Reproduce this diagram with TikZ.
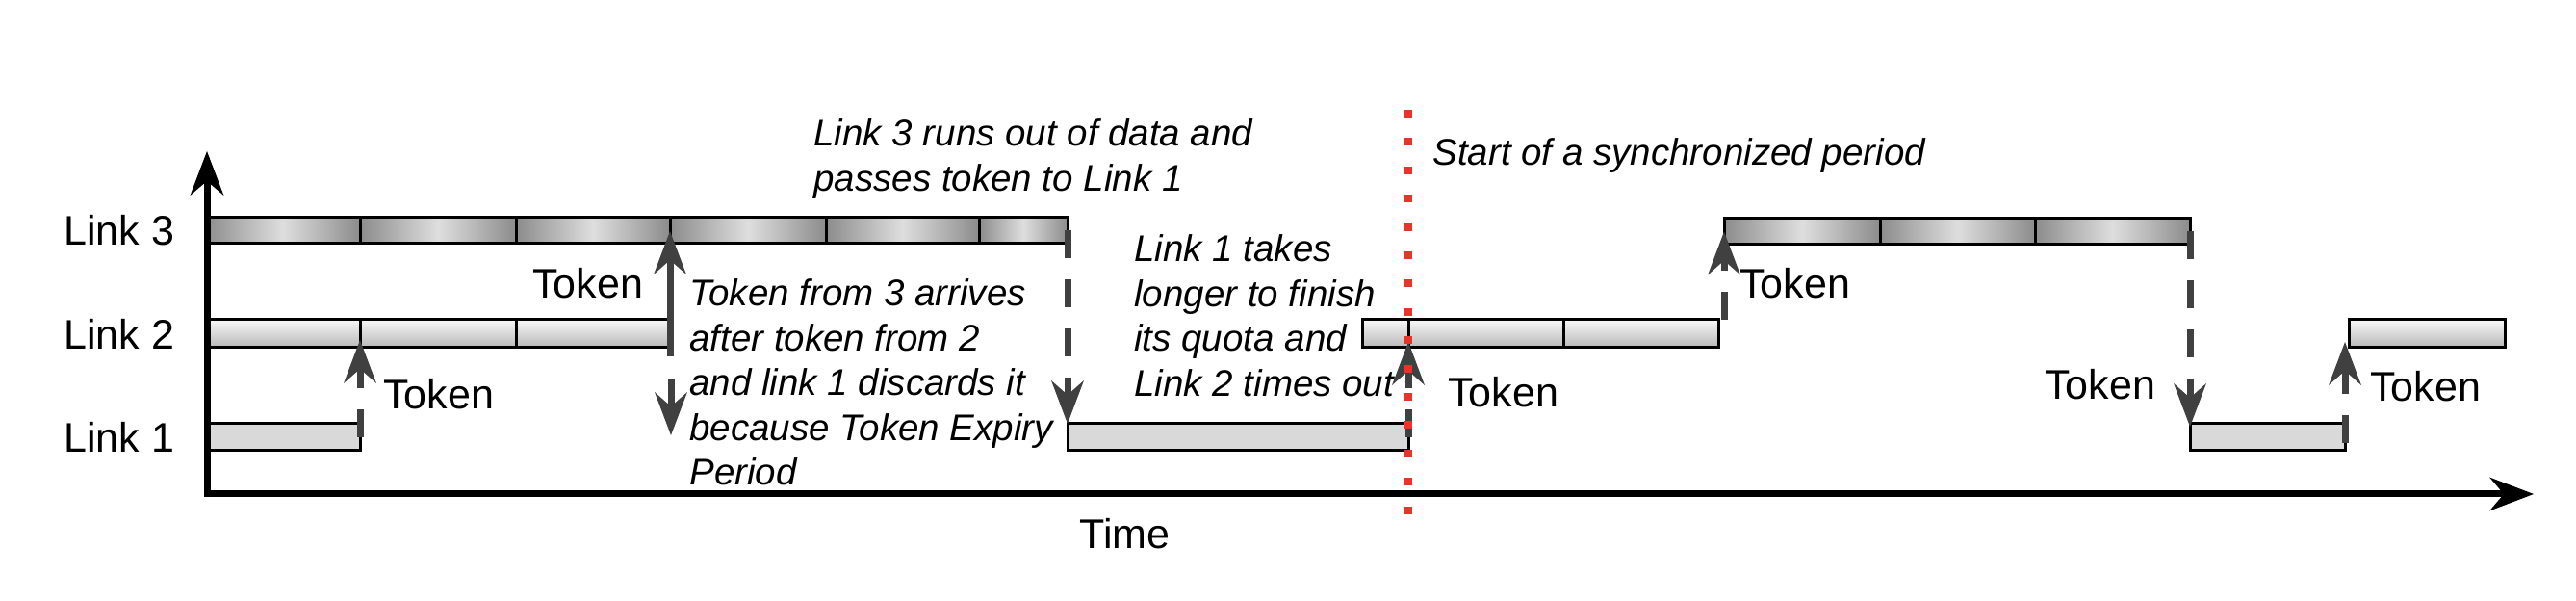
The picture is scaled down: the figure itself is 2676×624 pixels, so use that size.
\documentclass[tikz,border=0pt]{standalone}
\usepackage{fontspec}
\setmainfont{Liberation Sans}
\usetikzlibrary{arrows.meta,calc}
\definecolor{lthreedark}{HTML}{8C8C8C}
\definecolor{lthreelight}{HTML}{DEDEDE}
\definecolor{ltwotop}{HTML}{F6F6F6}
\definecolor{ltwobot}{HTML}{B8B8B8}
\definecolor{lonefill}{HTML}{D9D9D9}
\definecolor{tokgray}{HTML}{404040}
\definecolor{syncred}{HTML}{E8352B}
\begin{document}
\begin{tikzpicture}[x=0.5pt,y=-0.5pt,
  seg/.style={draw=black, line width=1.5pt, inner sep=0pt, outer sep=0pt, anchor=west, minimum width=#1*0.5pt},
  lthree/.style={seg=#1, minimum height=13.5pt, left color=lthreedark, right color=lthreedark, middle color=lthreelight},
  ltwo/.style={seg=#1, minimum height=14.5pt, top color=ltwotop, bottom color=ltwobot},
  lone/.style={seg=#1, minimum height=14pt, fill=lonefill},
  tok/.style={draw=tokgray, line width=3.5pt, -{Stealth[length=22.5pt, width=17pt, inset=7.5pt, line width=0pt]}},
  tokdash/.style={tok, dash pattern=on 14.5pt off 11pt},
  axisline/.style={draw=black, line width=3.5pt, {Stealth[length=23pt, width=17.5pt, inset=7.5pt, line width=0pt]}-{Stealth[length=23pt, width=17.5pt, inset=7.5pt, line width=0pt]}},
  linklabel/.style={font=\fontsize{21.5}{26}\selectfont, inner sep=0pt, anchor=base west},
  note/.style={font=\fontsize{19.25}{23.25}\selectfont\itshape, inner sep=0pt, anchor=base west},
  sync/.style={draw=syncred, line width=4pt, dash pattern=on 4pt off 10.7pt}
]
\useasboundingbox (0,0) rectangle (2676,624);

% Link 3 bars
\node[lthree=161] (s3a1) at (213,239.5) {};
\node[lthree=162] (s3a2) at (374,239.5) {};
\node[lthree=160] (s3a3) at (536,239.5) {};
\node[lthree=162] (s3a4) at (696,239.5) {};
\node[lthree=159] (s3a5) at (858,239.5) {};
\node[lthree=92]  (s3a6) at (1017,239.5) {};
\node[lthree=162] (s3b1) at (1791,240) {};
\node[lthree=161] (s3b2) at (1953,240) {};
\node[lthree=161] (s3b3) at (2114,240) {};

% Link 2 bars
\node[ltwo=161] (s2a1) at (213,346.5) {};
\node[ltwo=162] (s2a2) at (374,346.5) {};
\node[ltwo=160] (s2a3) at (536,346.5) {};
\node[ltwo=48]  (s2b1) at (1415,346.5) {};
\node[ltwo=161] (s2b2) at (1463,346.5) {};
\node[ltwo=161] (s2b3) at (1624,346.5) {};
\node[ltwo=162] (s2c)  at (2440,346.5) {};

% Link 1 bars
\node[lone=161] (s1a) at (213,454) {};
\node[lone=354] (s1b) at (1109,454) {};
\node[lone=161] (s1c) at (2275,454) {};

% token arrows
\draw[tokdash] (s1a.east) -- ([yshift=4pt]s2a1.south east);
\draw[tok] ([yshift=-4.5pt]s2a3.south east) -- ([yshift=6.5pt]s3a3.south east);
\coordinate (dA) at (697,393);
\coordinate (dB) at (697,452);
\draw[tok] (dA) -- (dB);
\draw[tokdash] (s3a6.east) -- (s1b.north west);
\draw[tokdash] (s1b.east) -- ([yshift=3pt]s2b1.south east);
\draw[tokdash] (s3b1.west |- s2b3.north) -- ([yshift=6.5pt]s3b1.south west);
\draw[tokdash] (s3b3.east) -- ([yshift=-1.5pt]s1c.north west);
\draw[tokdash] ([yshift=-3pt]s1c.east) -- ($(s1c.east |- s2c.south)+(0,-6)$);

% axes
\coordinate (ytop) at (215,157);
\coordinate (origin) at (215,513);
\coordinate (xend) at (2632,513);
\draw[axisline] (ytop) -- (origin) -- (xend);

% synchronized period line
\coordinate (syA) at (1463,114);
\coordinate (syB) at (1463,534);
\draw[sync] (syA) -- (syB);

% labels
\node[linklabel] (lab3) at (66,255) {Link 3};
\node[linklabel] (lab2) at (66,363) {Link 2};
\node[linklabel] (lab1) at (66,470) {Link 1};
\node[linklabel] (t1) at (398,425) {Token};
\node[linklabel] (t2) at (553,310) {Token};
\node[linklabel] (t3) at (1504,423) {Token};
\node[linklabel] (t4) at (1807,310) {Token};
\node[linklabel] (t5) at (2124,415) {Token};
\node[linklabel] (t6) at (2462,417) {Token};
\node[linklabel] (time) at (1121,569) {Time};

% notes
\node[note] (n1) at (845,152) {\begin{tabular}[t]{@{}l@{}}Link 3 runs out of data and\\passes token to Link 1\end{tabular}};
\node[note] (n2) at (716,318) {\begin{tabular}[t]{@{}l@{}}Token from 3 arrives\\after token from 2\\and link 1 discards it\\because Token Expiry\\Period\end{tabular}};
\node[note] (n3) at (1178,272) {\begin{tabular}[t]{@{}l@{}}Link 1 takes\\longer to finish\\its quota and\\Link 2 times out\end{tabular}};
\node[note] (n4) at (1488,172) {Start of a synchronized period};
\end{tikzpicture}
\end{document}
